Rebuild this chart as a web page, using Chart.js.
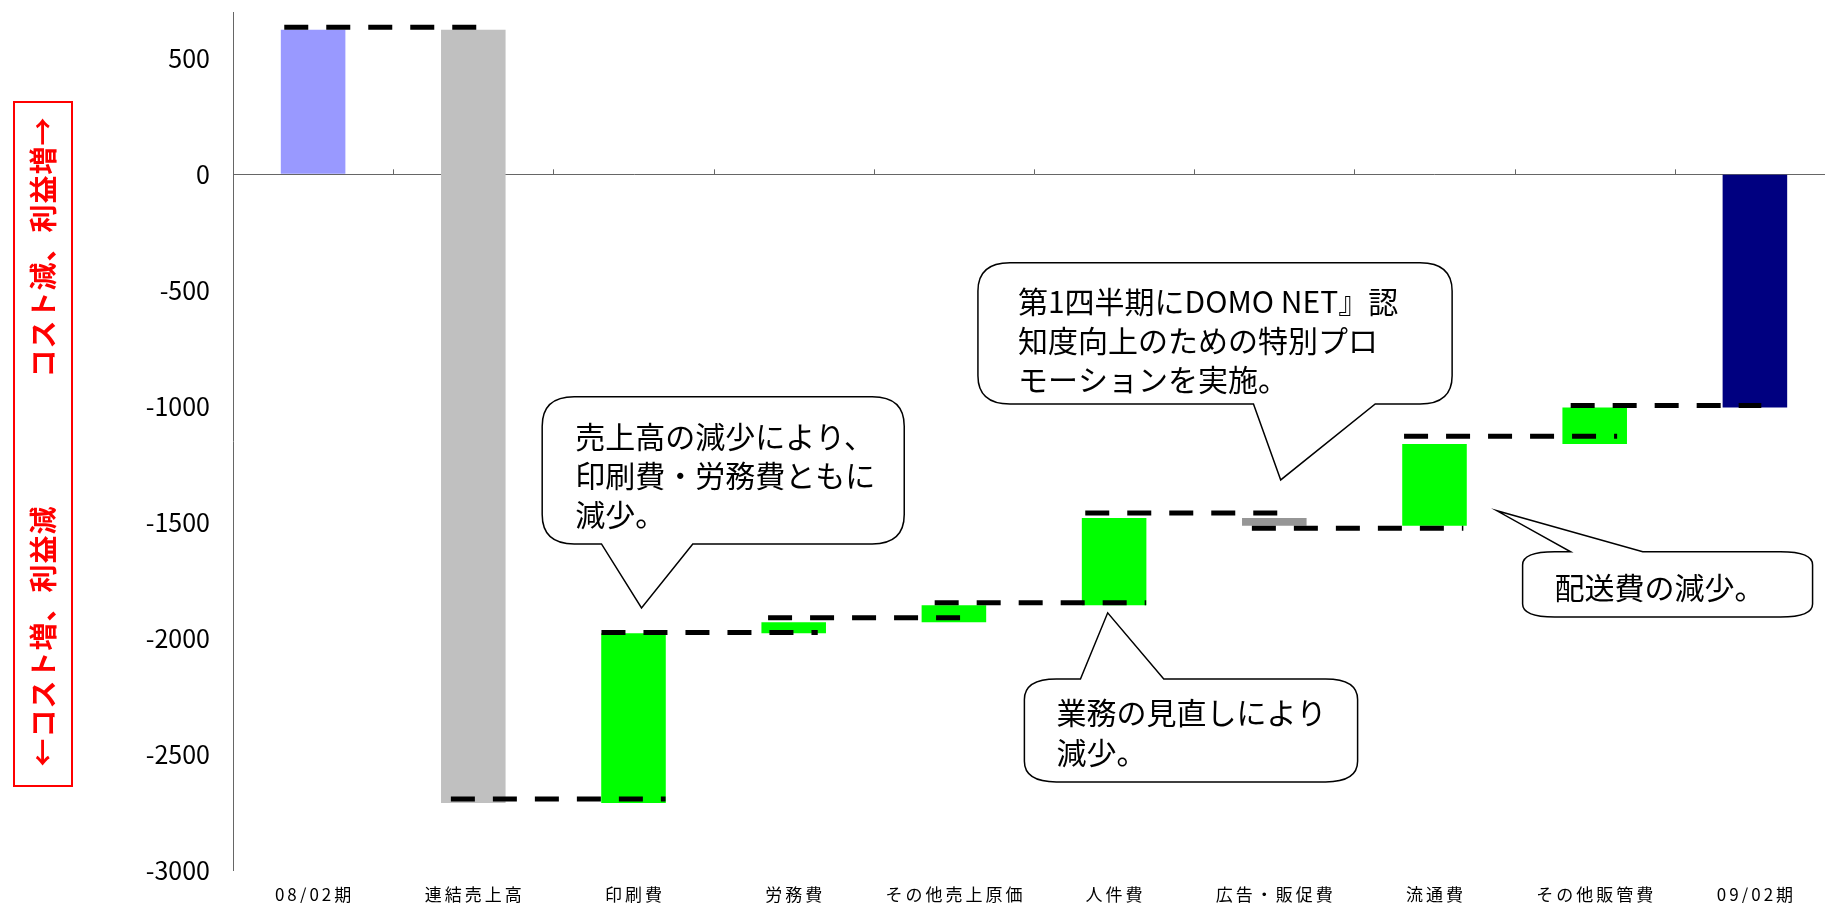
<!DOCTYPE html>
<html lang="ja">
<head>
<meta charset="utf-8">
<title>営業利益の増減要因</title>
<script src="https://cdn.jsdelivr.net/npm/chart.js@4.4.1/dist/chart.umd.min.js"></script>
<style>
  html, body { margin: 0; padding: 0; background: #fff; overflow: hidden; }
  #wrap { position: relative; width: 1845px; height: 903px; }
</style>
</head>
<body>
<div id="wrap"><canvas id="myChart"></canvas></div>
<script>
// categories along the bottom
const categories = ["08/02期", "連結売上高", "印刷費", "労務費", "その他売上原価", "人件費", "広告・販促費", "流通費", "その他販管費", "09/02期"];

// each bar floats from low to high
const barLow  = [0, -2711, -2711, -1979, -1932, -1858, -1515, -1515, -1163, -1005];
const barHigh = [623, 623, -1979, -1932, -1858, -1482, -1482, -1163, -1005, 0];

const barColors = ["#9999FF", "#C0C0C0", "#00FF00", "#00FF00", "#00FF00", "#00FF00", "#969696", "#00FF00", "#00FF00", "#000080"];

// dashed step connectors: level, start and end (in category units)
const stepLevel = [634, -2694, -1976, -1912, -1847, -1461, -1526, -1130, -997];
const stepFrom  = [-0.18, 0.86, 1.80, 2.84, 3.88, 4.82, 5.86, 6.81, 7.85];
const stepTo    = [1.02, 2.20, 3.15, 4.04, 5.20, 6.02, 7.18, 8.14, 9.04];

// y axis labels
const yTicks = [500, 0, -500, -1000, -1500, -2000, -2500, -3000];

// speech bubbles, box/tail/tip given in category units and yen values
const notes = [
  { box: [1.43, 3.69, -959, -1594], side: "bottom", tail: [1.80, 2.37], tip: [2.05, -1870], padX: 33, padTop: 40, lh: 39,
    lines: ["売上高の減少により、", "印刷費・労務費ともに", "減少。"] },
  { box: [4.15, 7.11, -381, -990], side: "bottom", tail: [5.87, 6.63], tip: [6.04, -1318], padX: 40, padTop: 39, lh: 39,
    lines: ["第1四半期にDOMO NET』認", "知度向上のための特別プロ", "モーションを実施。"] },
  { box: [4.44, 6.52, -2176, -2620], side: "top", tail: [4.79, 5.31], tip: [4.96, -1891], padX: 32, padTop: 34, lh: 40,
    lines: ["業務の見直しにより", "減少。"] },
  { box: [7.55, 9.36, -1628, -1909], side: "top", tail: [7.85, 8.30], tip: [7.39, -1451], padX: 32, padTop: 36, lh: 39,
    lines: ["配送費の減少。"] }
];

const FONT = '"Noto Sans CJK JP", "Noto Sans", sans-serif';
Chart.defaults.font.family = FONT;
Chart.defaults.color = "#000";

let stepPoints = [];
stepLevel.forEach(function (lv, i) {
  stepPoints.push({ x: stepFrom[i], y: lv }, { x: stepTo[i], y: lv }, { x: stepTo[i], y: null });
});

function drawNote(ctx, n, xs, ys) {
  const x1 = xs.getPixelForValue(n.box[0]), x2 = xs.getPixelForValue(n.box[1]);
  const y1 = ys.getPixelForValue(n.box[2]), y2 = ys.getPixelForValue(n.box[3]);
  const b1 = xs.getPixelForValue(n.tail[0]), b2 = xs.getPixelForValue(n.tail[1]);
  const tx = xs.getPixelForValue(n.tip[0]), ty = ys.getPixelForValue(n.tip[1]);
  const rx = 32, ry = Math.min(30, (y2 - y1) * 0.2);

  ctx.beginPath();
  ctx.moveTo(x1 + rx, y1);
  if (n.side === "top") { ctx.lineTo(b1, y1); ctx.lineTo(tx, ty); ctx.lineTo(b2, y1); }
  ctx.lineTo(x2 - rx, y1);
  ctx.quadraticCurveTo(x2, y1, x2, y1 + ry);
  ctx.lineTo(x2, y2 - ry);
  ctx.quadraticCurveTo(x2, y2, x2 - rx, y2);
  if (n.side === "bottom") { ctx.lineTo(b2, y2); ctx.lineTo(tx, ty); ctx.lineTo(b1, y2); }
  ctx.lineTo(x1 + rx, y2);
  ctx.quadraticCurveTo(x1, y2, x1, y2 - ry);
  ctx.lineTo(x1, y1 + ry);
  ctx.quadraticCurveTo(x1, y1, x1 + rx, y1);
  ctx.closePath();
  ctx.fillStyle = "#fff";
  ctx.fill();
  ctx.strokeStyle = "#000";
  ctx.lineWidth = 1.5;
  ctx.stroke();

  ctx.fillStyle = "#000";
  ctx.font = "30px " + FONT;
  ctx.textAlign = "left";
  ctx.textBaseline = "middle";
  n.lines.forEach(function (t, k) {
    ctx.fillText(t, x1 + n.padX, y1 + n.padTop + k * n.lh);
  });
}

// zero line ticks, bottom labels, side caption and bubbles
const extras = {
  id: "extras",
  afterDraw(chart) {
    const ctx = chart.ctx;
    const xs = chart.scales.x, ys = chart.scales.y;
    const y0 = ys.getPixelForValue(0);
    ctx.save();

    ctx.strokeStyle = "#666";
    ctx.lineWidth = 1;
    for (let i = 0; i <= categories.length; i++) {
      const x = Math.round(xs.getPixelForValue(i - 0.5)) + 0.5;
      ctx.beginPath();
      ctx.moveTo(x, y0 - 5);
      ctx.lineTo(x, y0);
      ctx.stroke();
    }

    ctx.fillStyle = "#000";
    ctx.font = "17px " + FONT;
    ctx.textAlign = "center";
    ctx.textBaseline = "middle";
    ctx.letterSpacing = "3px";
    categories.forEach(function (c, i) {
      ctx.fillText(c, xs.getPixelForValue(i) + 1.5, 895);
    });
    ctx.letterSpacing = "0px";

    ctx.strokeStyle = "#FF0000";
    ctx.lineWidth = 2;
    ctx.strokeRect(14, 102, 58, 684);
    ctx.fillStyle = "#FF0000";
    ctx.font = "bold 28px " + FONT;
    ctx.textAlign = "center";
    ctx.letterSpacing = "1px";
    [[247, "コスト減、利益増→"], [636, "←コスト増、利益減"]].forEach(function (p) {
      ctx.save();
      ctx.translate(43, p[0]);
      ctx.rotate(-Math.PI / 2);
      ctx.fillText(p[1], 0, 0);
      ctx.restore();
    });
    ctx.letterSpacing = "0px";

    notes.forEach(function (n) { drawNote(ctx, n, xs, ys); });
    ctx.restore();
  }
};

new Chart("myChart", {
  type: "bar",
  data: {
    datasets: [
      {
        type: "line",
        data: stepPoints,
        borderColor: "#000",
        borderWidth: 5,
        borderDash: [24, 18],
        borderCapStyle: "butt",
        pointRadius: 0,
        fill: false,
        tension: 0,
        spanGaps: false,
        order: 0
      },
      {
        type: "bar",
        data: categories.map(function (c, i) { return { x: i, y: [barLow[i], barHigh[i]] }; }),
        backgroundColor: barColors,
        borderWidth: 0,
        barPercentage: 0.403,
        categoryPercentage: 1,
        order: 1
      }
    ]
  },
  options: {
    responsive: true,
    maintainAspectRatio: false,
    animation: false,
    events: [],
    layout: { autoPadding: false, padding: { top: 12, right: 10, left: 0, bottom: 0 } },
    plugins: { legend: { display: false }, tooltip: { enabled: false } },
    scales: {
      x: {
        type: "linear",
        min: -0.5,
        max: 9.5,
        offset: false,
        afterBuildTicks: function (s) { s.ticks = categories.map(function (c, i) { return { value: i }; }); },
        afterFit: function (s) { s.height = 33; s.paddingLeft = 0; s.paddingRight = 0; },
        grid: { display: false, offset: false },
        border: { display: false },
        ticks: { display: false }
      },
      y: {
        min: -3000,
        max: 700,
        afterBuildTicks: function (s) { s.ticks = yTicks.map(function (v) { return { value: v }; }); },
        afterFit: function (s) { s.width = 233; s.paddingTop = 0; s.paddingBottom = 0; },
        border: { display: true, color: "#666", width: 1 },
        grid: {
          drawTicks: false,
          lineWidth: 1,
          color: function (c) { return c.tick && c.tick.value === 0 ? "#666" : "rgba(0,0,0,0)"; }
        },
        ticks: {
          padding: 23,
          font: { size: 25 },
          color: "#000",
          callback: function (v) { return String(v); }
        }
      }
    }
  },
  plugins: [extras]
});
</script>
</body>
</html>
